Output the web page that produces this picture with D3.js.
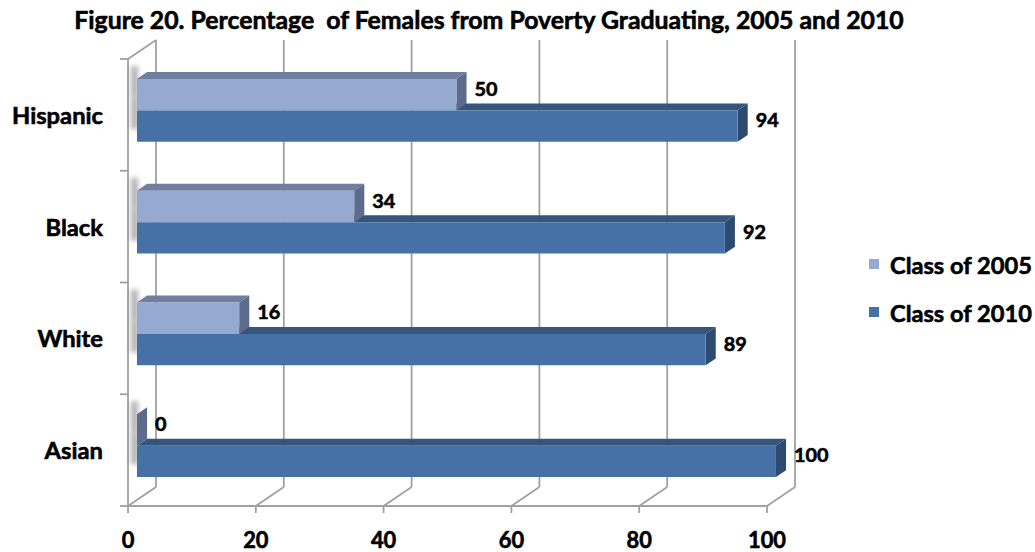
<!DOCTYPE html>
<html>
<head>
<meta charset="utf-8">
<style>
  body { margin: 0; background: #fff; }
  text { font-family: Lato, "Open Sans", sans-serif; font-weight: bold; fill: #000; stroke: #000; stroke-width: 0.6px; }
</style>
</head>
<body>
<div id="chart"></div>
<script src="https://d3js.org/d3.v7.min.js"></script>
<script>
// data
const categories = ["Hispanic", "Black", "White", "Asian"];
const seriesNames = ["Class of 2005", "Class of 2010"];
const class2005 = [50, 34, 16, 0];
const class2010 = [94, 92, 89, 100];
const xTicks = [0, 20, 40, 60, 80, 100];

const width = 1035, height = 552;
const colors = {
  "Class of 2005": {front: "#95A9D1", top: "#6F7FA1", side: "#5D6C8C"},
  "Class of 2010": {front: "#4571A7", top: "#35557D", side: "#2D4B71"}
};

// depth of the 3d box, and where bars sit inside it
const DX = 28, DY = -19, d0 = 0.32, d1 = 0.68;

const svg = d3.select("#chart").append("svg")
  .attr("width", width).attr("height", height);

const x = d3.scaleLinear().domain([0, 100]).range([128, 767]);
const y = d3.scaleBand().domain(categories).range([59, 506]);
const ySub = d3.scaleBand().domain(seriesNames)
  .range([y.bandwidth() * 0.233, y.bandwidth() * 0.796]);

const P = (v, yf, d) => [x(v) + d * DX, yf + d * DY];
const poly = pts => "M" + pts.map(p => p.join(",")).join("L") + "Z";

const grid = svg.append("g").attr("stroke", "#A0A0A0").attr("stroke-width", 1.8).attr("fill", "none");

// back wall verticals + floor diagonals
xTicks.forEach(t => {
  grid.append("line")
    .attr("x1", x(t) + DX).attr("x2", x(t) + DX)
    .attr("y1", y.range()[1] + DY).attr("y2", y.range()[0] + DY);
  grid.append("line")
    .attr("x1", x(t)).attr("y1", y.range()[1])
    .attr("x2", x(t) + DX).attr("y2", y.range()[1] + DY);
  // bottom tick
  grid.append("line")
    .attr("x1", x(t)).attr("x2", x(t))
    .attr("y1", y.range()[1]).attr("y2", y.range()[1] + 7);
});
// front floor edge
grid.append("line")
  .attr("x1", x(0)).attr("x2", x(100))
  .attr("y1", y.range()[1]).attr("y2", y.range()[1]);
// left wall
grid.append("line")
  .attr("x1", x(0)).attr("x2", x(0))
  .attr("y1", y.range()[0]).attr("y2", y.range()[1]);
grid.append("line")
  .attr("x1", x(0)).attr("y1", y.range()[0])
  .attr("x2", x(0) + DX).attr("y2", y.range()[0] + DY);
// left axis ticks at band edges
categories.concat([null]).forEach((c, i) => {
  const yy = y.range()[0] + i * y.step();
  grid.append("line")
    .attr("x1", x(0) - 8).attr("x2", x(0))
    .attr("y1", yy).attr("y2", yy);
});

// soft shadow on the left wall
const defs = svg.append("defs");
defs.append("filter").attr("id", "blur")
  .attr("x", "-100%").attr("width", "300%")
  .append("feGaussianBlur").attr("stdDeviation", 2.5);

const rows = [];
categories.forEach((c, i) => {
  // lower bar first so the upper one covers its top face
  rows.push({cat: c, series: "Class of 2010", value: class2010[i]});
  rows.push({cat: c, series: "Class of 2005", value: class2005[i]});
});

const bars = svg.append("g");
rows.forEach(r => {
  const yTop = y(r.cat) + ySub(r.series);
  const yBot = yTop + ySub.bandwidth();
  const col = colors[r.series];
  const g = bars.append("g");
  g.append("rect")
    .attr("x", x(0) + 3).attr("y", yTop + d1 * DY - 6)
    .attr("width", 7).attr("height", yBot - yTop)
    .attr("fill", "#000").attr("opacity", 0.3)
    .attr("filter", "url(#blur)");
  g.append("path")
    .attr("d", poly([P(0, yTop, d0), P(r.value, yTop, d0), P(r.value, yTop, d1), P(0, yTop, d1)]))
    .attr("fill", col.top);
  g.append("path")
    .attr("d", poly([P(r.value, yTop, d0), P(r.value, yTop, d1), P(r.value, yBot, d1), P(r.value, yBot, d0)]))
    .attr("fill", col.side);
  g.append("path")
    .attr("d", poly([P(0, yTop, d0), P(r.value, yTop, d0), P(r.value, yBot, d0), P(0, yBot, d0)]))
    .attr("fill", col.front);
  const lab = P(r.value, (yTop + yBot) / 2, d1);
  g.append("text")
    .attr("class", "val")
    .attr("x", lab[0] + 8)
    .attr("y", lab[1] + 1)
    .attr("dy", "0.35em")
    .text(r.value);
});

// fit a font size so a reference string gets a given width
function fitSize(str, target, base) {
  const t = svg.append("text").style("font-size", base + "px").text(str);
  const w = t.node().getComputedTextLength();
  t.remove();
  return base * target / w;
}
const titleSize = fitSize("Figure 20. Percentage  of Females from Poverty Graduating, 2005 and 2010", 824, 20);
const catSize = fitSize("Hispanic", 91, 20);
const tickSize = fitSize("100", 38, 20);
const valSize = fitSize("94", 23, 20);
const legSize = fitSize("Class of 2010", 142, 20);

svg.selectAll("text.val").style("font-size", valSize + "px");

svg.append("text")
  .attr("x", 489).attr("y", 29)
  .attr("text-anchor", "middle")
  .style("font-size", titleSize + "px")
  .style("white-space", "pre")
  .attr("xml:space", "preserve")
  .text("Figure 20. Percentage  of Females from Poverty Graduating, 2005 and 2010");

svg.append("g").selectAll("text").data(categories).join("text")
  .attr("x", 103)
  .attr("y", d => y(d) + y.bandwidth() / 2 + 9)
  .attr("text-anchor", "end")
  .style("font-size", catSize + "px")
  .text(d => d);

svg.append("g").selectAll("text").data(xTicks).join("text")
  .attr("x", d => x(d))
  .attr("y", 548)
  .attr("text-anchor", "middle")
  .style("font-size", tickSize + "px")
  .text(d => d);

const legend = svg.append("g");
seriesNames.forEach((s, i) => {
  const by = 274 + i * 48;
  legend.append("rect")
    .attr("x", 869).attr("y", by - 15)
    .attr("width", 10).attr("height", 10)
    .attr("fill", colors[s].front);
  legend.append("text")
    .attr("x", 890).attr("y", by)
    .style("font-size", legSize + "px")
    .text(s);
});
</script>
</body>
</html>
